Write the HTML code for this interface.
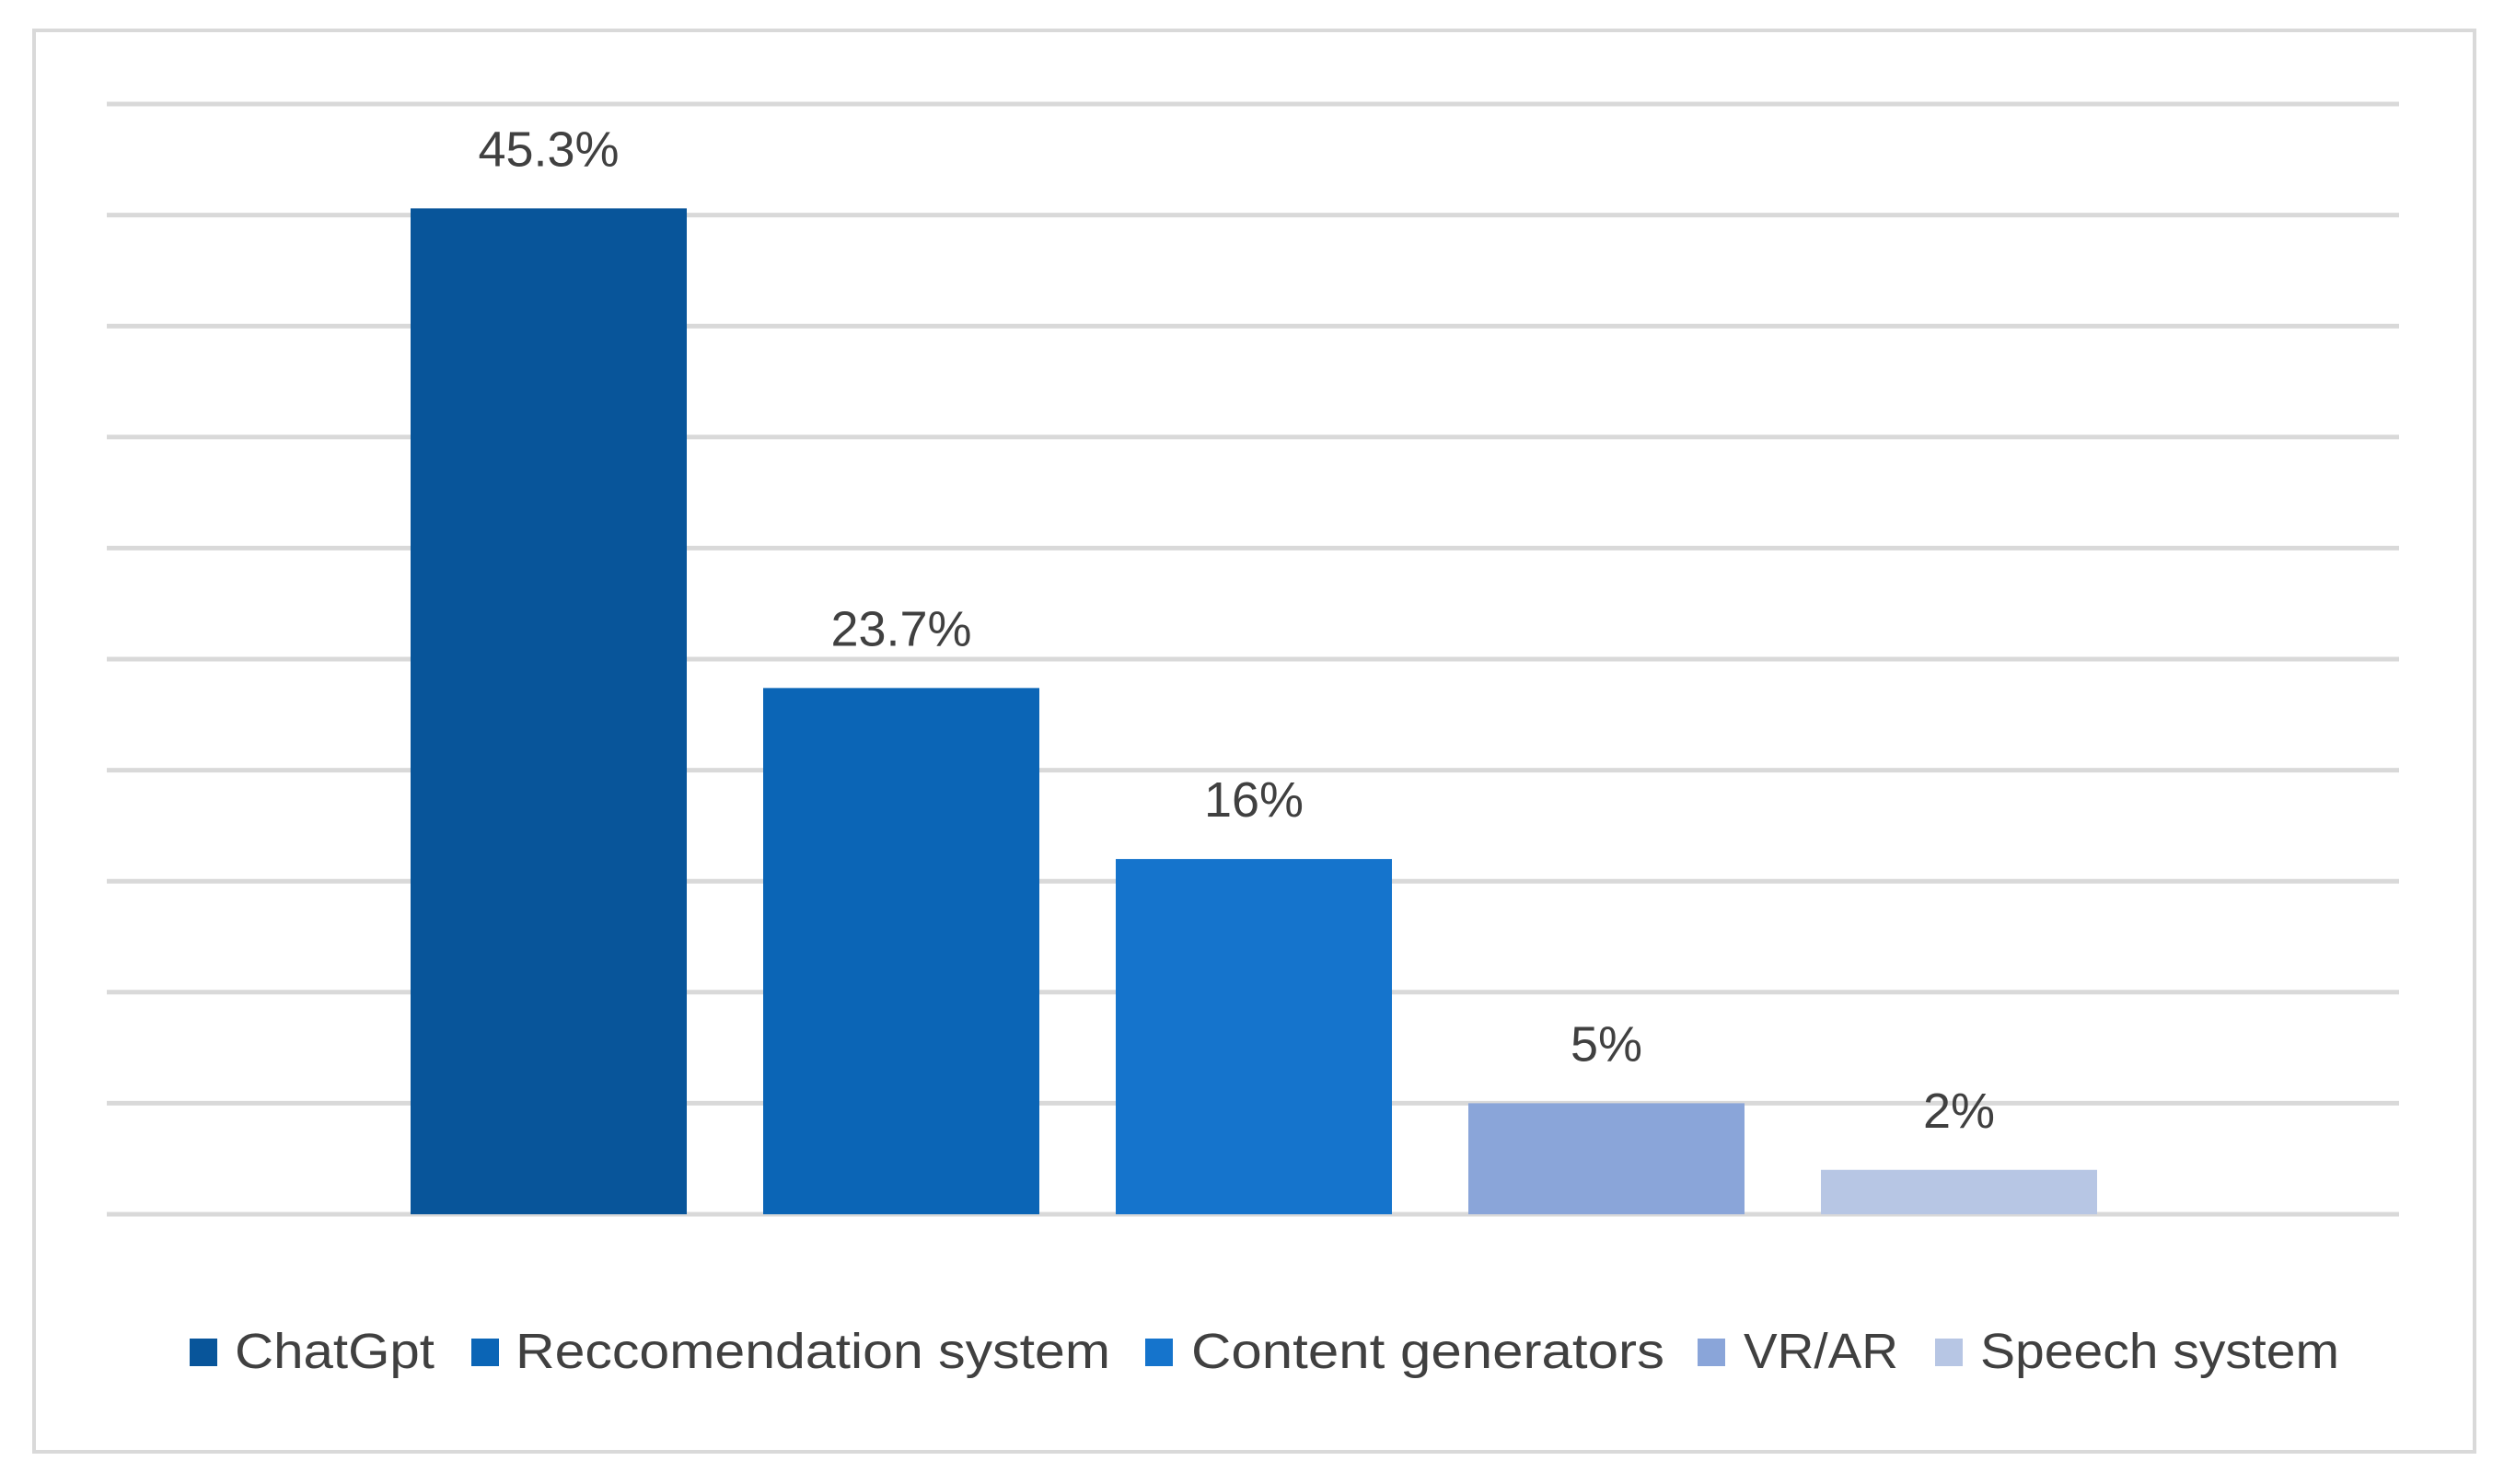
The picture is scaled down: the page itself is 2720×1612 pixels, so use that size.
<!DOCTYPE html>
<html><head><meta charset="utf-8"><style>html,body{margin:0;padding:0;background:#fff}svg{display:block}</style></head>
<body>
<svg id="chart" width="2720" height="1612" viewBox="0 0 2720 1612" xmlns="http://www.w3.org/2000/svg" font-family="'Liberation Sans', sans-serif">
<rect x="37" y="33" width="2651" height="1544" fill="#fff" stroke="#d9d9d9" stroke-width="4"/>
<g id="grid"></g><g id="bars"></g><g id="labels"></g><g id="legend"></g>
</svg>
<script>
const categories = ["ChatGpt", "Reccomendation system", "Content generators", "VR/AR", "Speech system"];
const values = [45.3, 23.7, 16, 5, 2];
const valueLabels = ["45.3%", "23.7%", "16%", "5%", "2%"];
const gridTicks = [0, 5, 10, 15, 20, 25, 30, 35, 40, 45, 50];
const colors = ["#08559a", "#0b65b6", "#1574cc", "#8aa5d9", "#b7c6e4"];
const NS = "http://www.w3.org/2000/svg";
const baseY = 1319, pxPer = 24.12, plotL = 116, plotR = 2606;
function y(v){ return baseY - v * pxPer; }
function xc(i){ return 596 + 383 * i; }
const barW = 300;
const grid = document.getElementById('grid');
gridTicks.forEach(t => {
  const l = document.createElementNS(NS, 'line');
  l.setAttribute('x1', plotL); l.setAttribute('x2', plotR);
  l.setAttribute('y1', y(t)); l.setAttribute('y2', y(t));
  l.setAttribute('stroke', '#d9d9d9'); l.setAttribute('stroke-width', '5');
  
  
  grid.appendChild(l);
});
const bars = document.getElementById('bars'), labels = document.getElementById('labels');
values.forEach((v, i) => {
  const r = document.createElementNS(NS, 'rect');
  r.setAttribute('x', xc(i) - barW / 2); r.setAttribute('width', barW);
  r.setAttribute('y', y(v)); r.setAttribute('height', baseY - y(v));
  r.setAttribute('fill', colors[i]);
  
  
  bars.appendChild(r);
  const t = document.createElementNS(NS, 'text');
  t.setAttribute('x', xc(i)); t.setAttribute('y', y(v) - 46);
  t.setAttribute('text-anchor', 'middle'); t.setAttribute('font-size', '54');
  t.setAttribute('fill', '#404040');
  t.textContent = valueLabels[i];
  
  
  labels.appendChild(t);
});
const legend = document.getElementById('legend');
const legSq = [206, 512, 1244, 1844, 2102];
const legTx = [255, 560, 1294, 1894, 2151];
const legEnd = [472, 1206, 1808, 2062, 2541];
categories.forEach((c, i) => {
  const s = document.createElementNS(NS, 'rect');
  s.setAttribute('x', legSq[i]); s.setAttribute('y', 1454);
  s.setAttribute('width', 30); s.setAttribute('height', 30);
  s.setAttribute('fill', colors[i]);
  
  
  legend.appendChild(s);
  const t = document.createElementNS(NS, 'text');
  t.setAttribute('x', legTx[i]); t.setAttribute('y', 1486);
  t.setAttribute('font-size', '54'); t.setAttribute('fill', '#404040');
  t.setAttribute('textLength', legEnd[i] - legTx[i]);
  t.setAttribute('lengthAdjust', 'spacingAndGlyphs');
  t.textContent = c;
  
  
  legend.appendChild(t);
});
</script>
</body></html>
